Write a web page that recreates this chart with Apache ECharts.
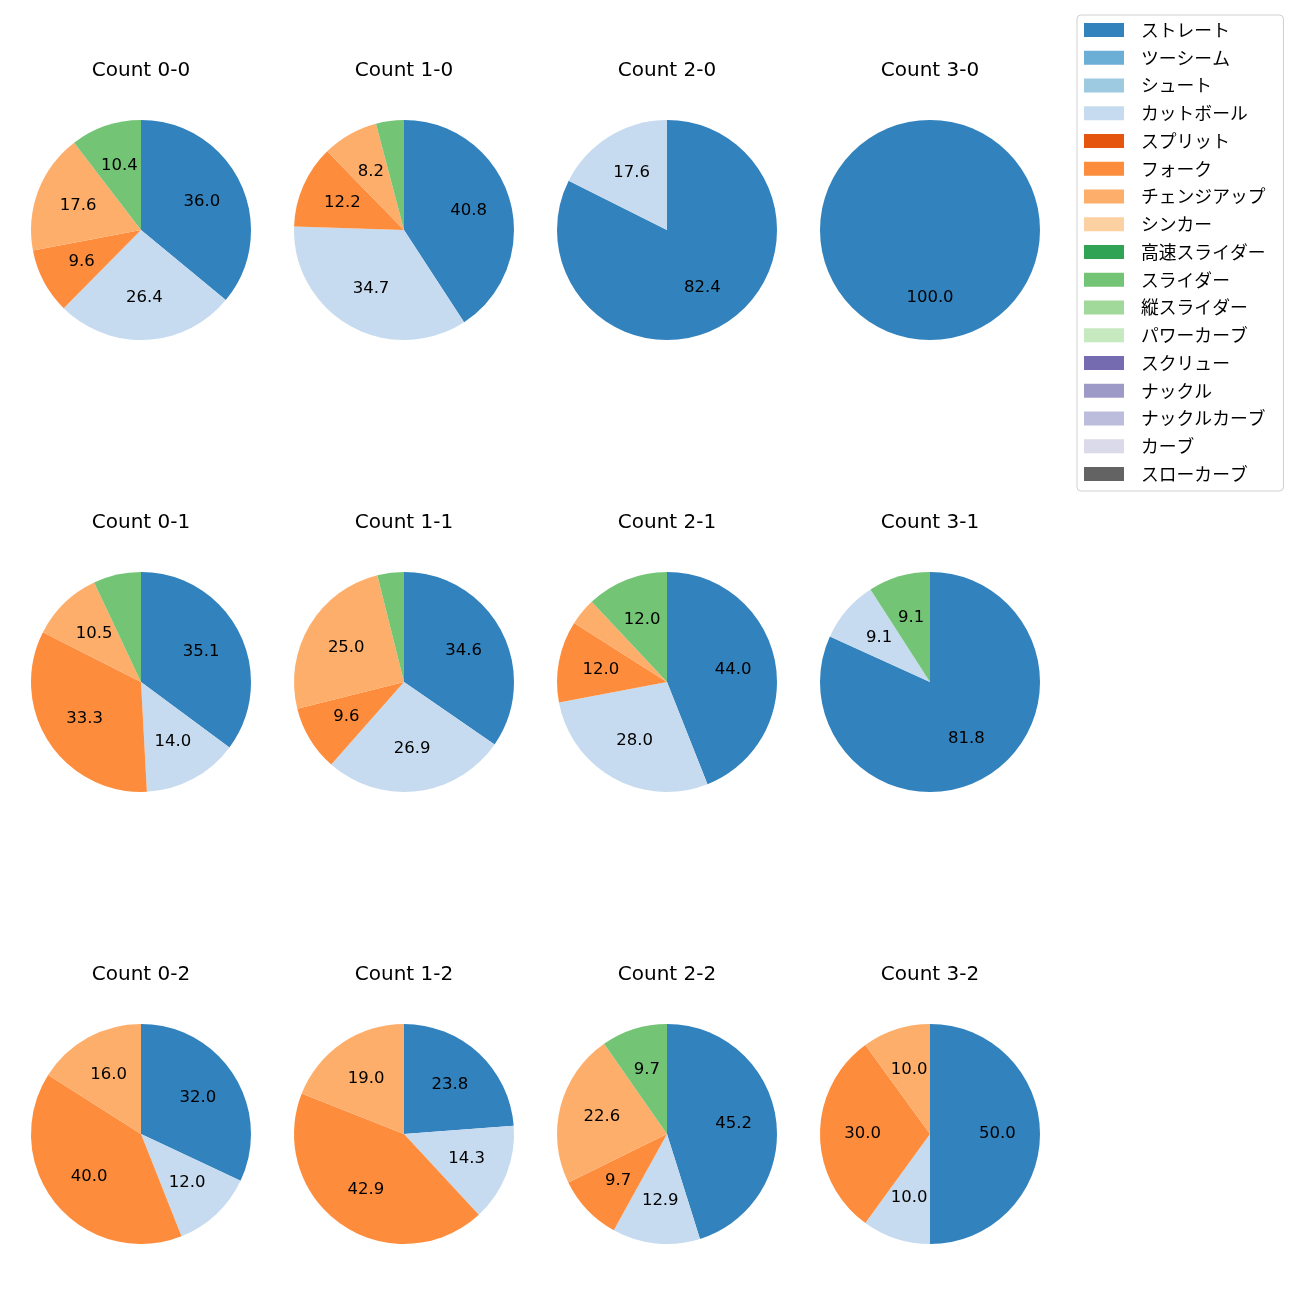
<!DOCTYPE html>
<html>
<head>
<meta charset="utf-8">
<script src="https://cdn.jsdelivr.net/npm/echarts@6/dist/echarts.min.js"></script>
<style>html,body{margin:0;padding:0;background:#fff}#c{width:1300px;height:1300px}</style>
</head>
<body>
<div id="c"></div>
<script>
const counts = ['0-0','1-0','2-0','3-0','0-1','1-1','2-1','3-1','0-2','1-2','2-2','3-2'];
const pitchTypes = ['ストレート','ツーシーム','シュート','カットボール','スプリット','フォーク','チェンジアップ','シンカー','高速スライダー','スライダー','縦スライダー','パワーカーブ','スクリュー','ナックル','ナックルカーブ','カーブ','スローカーブ'];
const pitchColors = ['#3182bd','#6baed6','#9ecae1','#c6dbef','#e6550d','#fd8d3c','#fdae6b','#fdd0a2','#31a354','#74c476','#a1d99b','#c7e9c0','#756bb1','#9e9ac8','#bcbddc','#dadaeb','#636363'];
// percentage per count (same order as counts)
const straight   = [36.0, 40.8, 82.4, 100.0, 35.1, 34.6, 44.0, 81.8, 32.0, 23.8, 45.2, 50.0];
const cutter     = [26.4, 34.7, 17.6, 0, 14.0, 26.9, 28.0, 9.1, 12.0, 14.3, 12.9, 10.0];
const fork       = [9.6, 12.2, 0, 0, 33.3, 9.6, 12.0, 0, 40.0, 42.9, 9.7, 30.0];
const changeup   = [17.6, 8.2, 0, 0, 10.5, 25.0, 4.0, 0, 16.0, 19.0, 22.6, 10.0];
const slider     = [10.4, 4.1, 0, 0, 7.0, 3.9, 12.0, 9.1, 0, 0, 9.7, 0];
const seriesByType = {'ストレート': straight, 'カットボール': cutter, 'フォーク': fork, 'チェンジアップ': changeup, 'スライダー': slider};

const colX = [141, 404, 667, 930];
const rowY = [230, 682, 1134];
const R = 110;
const LATIN = '"DejaVu Sans", "Noto Sans CJK JP", sans-serif';
const CJK = '"Noto Sans CJK JP", "DejaVu Sans", sans-serif';

const series = [];
const titles = [];
counts.forEach((c, i) => {
  const cx = colX[i % 4], cy = rowY[Math.floor(i / 4)];
  titles.push({text: 'Count ' + c, left: cx, top: cy - 169, textAlign: 'center', padding: 0,
    textStyle: {fontSize: 20, fontWeight: 'normal', color: '#000', fontFamily: LATIN}});
  const main = [];
  const lab = [];
  pitchTypes.forEach((p, k) => {
    const arr = seriesByType[p];
    const v = arr ? arr[i] : 0;
    if (v > 0 || i === 0) main.push({name: p, value: v, itemStyle: {color: pitchColors[k]}});
    if (v > 0) lab.push({name: p, value: v, itemStyle: {color: 'rgba(0,0,0,0)'},
      label: {show: v >= 8}});
  });
  series.push({type: 'pie', center: [cx, cy], radius: [0, R], startAngle: 90, clockwise: true,
    data: main, label: {show: false}, labelLine: {show: false}, silent: true, animation: false,
    itemStyle: {borderWidth: 0}, emphasis: {disabled: true}});
  series.push({type: 'pie', center: [cx, cy], radius: [R * 0.17, R], startAngle: 90, clockwise: true,
    data: lab, silent: true, animation: false, legendHoverLink: false,
    itemStyle: {borderWidth: 0}, emphasis: {disabled: true},
    label: {position: 'inside', color: '#000', fontSize: 16.5, fontFamily: LATIN,
      formatter: p => p.value.toFixed(1)},
    labelLine: {show: false}});
});

const chart = echarts.init(document.getElementById('c'), null, {renderer: 'canvas'});
chart.setOption({
  backgroundColor: '#fff',
  animation: false,
  title: titles,
  legend: {
    data: pitchTypes,
    orient: 'vertical', left: 1077, top: 15,
    icon: 'rect', itemWidth: 40, itemHeight: 14, itemGap: 7.75,
    padding: [5, 18, 7, 7],
    borderColor: '#d0d0d0', borderWidth: 1, borderRadius: 4,
    textStyle: {fontSize: 17.8, color: '#000', fontFamily: CJK, lineHeight: 20, padding: [0, 0, 0, 12]},
    selectedMode: false
  },
  series: series
});
</script>
</body>
</html>
